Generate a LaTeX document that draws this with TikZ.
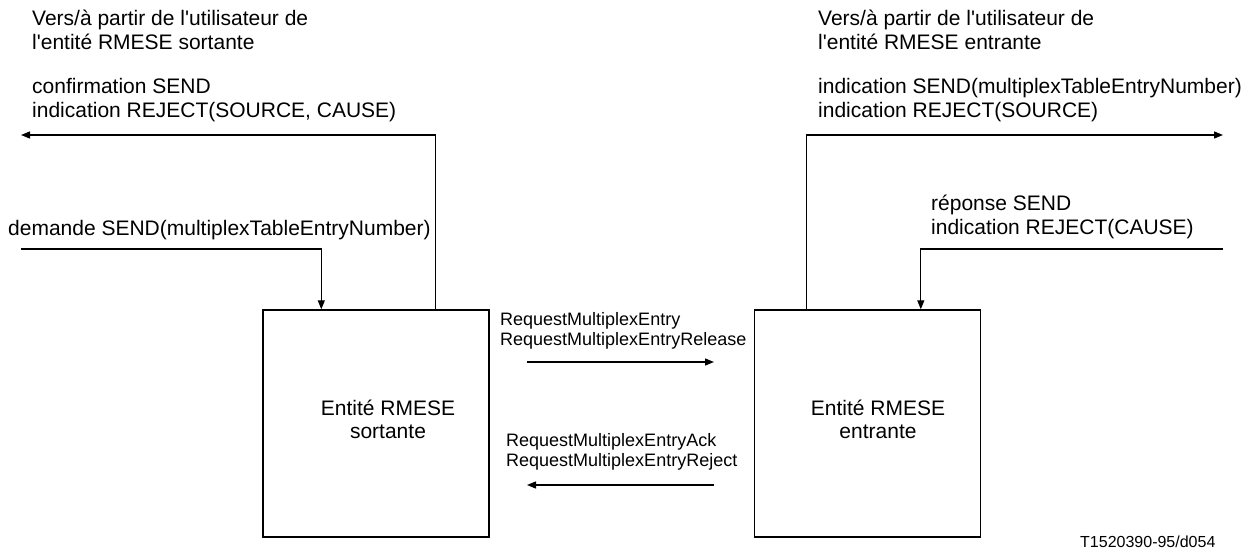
\documentclass[tikz,border=0pt]{standalone}
\usepackage{fontspec}
\setmainfont{Liberation Sans}
\usetikzlibrary{arrows.meta}
\begin{document}
\begin{tikzpicture}[x=1pt,y=-1pt,
  arr/.style={line width=1.3pt,-{Triangle[length=9pt,width=7pt]}},
  entbox/.style={draw,line width=1.4pt,minimum width=226pt,minimum height=227pt,inner sep=0pt},
  bigtxt/.style={inner sep=0pt,anchor=base west,align=left,font=\fontsize{21}{24}\selectfont},
  ctrtxt/.style={inner sep=0pt,anchor=base,align=center,font=\fontsize{21}{23}\selectfont},
  smalltxt/.style={inner sep=0pt,anchor=base west,align=left,font=\fontsize{18}{20}\selectfont},
  foot/.style={inner sep=0pt,anchor=base west,font=\fontsize{16}{19}\selectfont}]
\useasboundingbox (0,0) rectangle (1245,553);
% boxes
\node[entbox] (lbox) at (376,423.5) {};
\node[entbox] (rbox) at (867.5,423.5) {};
% multi-line nodes: base anchor = baseline of the last line
\node[ctrtxt] (ltext) at (388,438) {Entité RMESE\\sortante};
\node[ctrtxt] (rtext) at (878,438) {Entité RMESE\\entrante};
% texts
\node[bigtxt] (tl1) at (32,50) {Vers/à partir de l\textquotesingle utilisateur de\\l\textquotesingle entité RMESE sortante};
\node[bigtxt] (tl2) at (32,118) {confirmation SEND\\indication REJECT(SOURCE, CAUSE)};
\node[bigtxt] (tl3) at (8,236) {demande SEND(multiplexTableEntryNumber)};
\node[bigtxt] (tr1) at (818,50) {Vers/à partir de l\textquotesingle utilisateur de\\l\textquotesingle entité RMESE entrante};
\node[bigtxt] (tr2) at (818,118) {indication SEND(multiplexTableEntryNumber)\\indication REJECT(SOURCE)};
\node[bigtxt] (tr3) at (931,235) {réponse SEND\\indication REJECT(CAUSE)};
\node[smalltxt] (m1t) at (500,345) {RequestMultiplexEntry\\RequestMultiplexEntryRelease};
\node[smalltxt] (m2t) at (506,466) {RequestMultiplexEntryAck\\RequestMultiplexEntryReject};
\node[foot] (ft) at (1080,547) {T1520390-95/d054};
% free ends
\coordinate (lout) at (21,135);
\coordinate (lin) at (21,249);
\coordinate (rout) at (1223,135);
\coordinate (rin) at (1223,249);
\coordinate (m1s) at (527,362);
\coordinate (m1e) at (714,362);
\coordinate (m2s) at (714,485);
\coordinate (m2e) at (527,485);
% connectors
\draw[arr] ([xshift=173pt]lbox.north west) |- (lout);
\draw[arr] (lin) -| ([xshift=59pt]lbox.north west);
\draw[arr] ([xshift=53pt]rbox.north west) |- (rout);
\draw[arr] (rin) -| ([xshift=167pt]rbox.north west);
\draw[arr] (m1s) -- (m1e);
\draw[arr] (m2s) -- (m2e);
\end{tikzpicture}
\end{document}
